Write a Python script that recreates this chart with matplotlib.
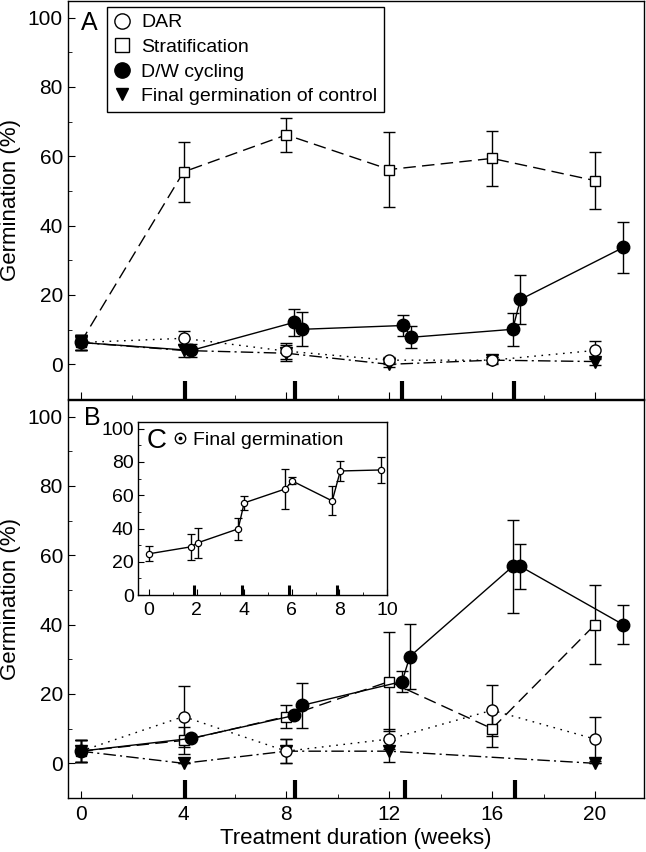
import matplotlib
matplotlib.use('Agg')
from matplotlib import pyplot as plt
from matplotlib.lines import Line2D
from matplotlib.legend_handler import HandlerTuple
from matplotlib.ticker import MultipleLocator

plt.rcParams['font.family'] = ['Liberation Sans', 'DejaVu Sans']
plt.rcParams['axes.linewidth'] = 1.0

# ---- panel A ----
a_dar_x = [0, 4, 8, 12, 16, 20]
a_dar_y = [6.3, 7.5, 3.8, 1.2, 1.2, 4.0]
a_dar_err = [2.3, 2.0, 2.3, 1.0, 1.0, 2.6]
a_strat_x = [0, 4, 8, 12, 16, 20]
a_strat_y = [6.3, 55.5, 66.2, 56.2, 59.4, 53.0]
a_strat_err = [2.3, 8.6, 5.0, 10.7, 8.0, 8.2]
a_dw_x = [0, 4.3, 8.3, 8.6, 12.55, 12.85, 16.8, 17.1, 21.1]
a_dw_y = [6.3, 4.0, 12.1, 10.1, 11.2, 7.8, 10.1, 18.7, 33.7]
a_dw_err = [2.3, 1.8, 4.0, 4.9, 2.9, 3.2, 4.7, 7.0, 7.4]
a_ctrl_x = [0, 4, 8, 12, 16, 20]
a_ctrl_y = [6.3, 4.0, 3.2, 0.0, 1.2, 0.8]
a_ctrl_err = [2.3, 2.0, 2.3, 0.8, 0.8, 1.0]
a_marks = [4.05, 8.33, 12.5, 16.85]

# ---- panel B ----
b_dar_x = [0, 4, 8, 12, 16, 20]
b_dar_y = [3.5, 13.5, 3.5, 7.0, 15.3, 7.0]
b_dar_err = [3.2, 8.7, 3.5, 3.0, 7.3, 6.4]
b_strat_x = [0, 4, 8, 12, 16, 20]
b_strat_y = [3.5, 6.6, 13.5, 23.6, 10.0, 40.0]
b_strat_err = [3.2, 4.0, 3.2, 14.2, 5.4, 11.4]
b_dw_x = [0, 4.3, 8.3, 8.6, 12.5, 12.8, 16.8, 17.1, 21.1]
b_dw_y = [3.5, 7.2, 13.8, 16.7, 23.6, 30.8, 56.8, 56.8, 40.0]
b_dw_err = [3.2, 0, 0, 6.5, 3.0, 9.5, 13.3, 6.6, 5.7]
b_ctrl_x = [0, 4, 8, 12, 20]
b_ctrl_y = [3.5, 0.0, 3.5, 3.5, 0.0]
b_ctrl_err = [3.2, 0, 3.5, 3.2, 0]
b_marks = [4.05, 8.33, 12.6, 16.9]

# ---- inset C ----
c_x = [0, 1.77, 2.05, 3.75, 4.0, 5.73, 6.02, 7.7, 8.04, 9.73]
c_y = [24.8, 29.0, 31.4, 39.8, 55.4, 63.8, 68.6, 56.6, 74.6, 75.2]
c_err = [4.5, 7.8, 9.0, 6.6, 4.1, 11.9, 2.1, 8.7, 5.9, 7.8]
c_marks = [1.9, 3.9, 5.9, 7.9]

TICK_FS = 15
LAB_FS = 16
LEG_FS = 14
eb = dict(capsize=4.3, elinewidth=1.0, capthick=1.0, color='k', lw=1.0)


def panel(ax, dar, strat, dw, ctrl, marks):
    ax.errorbar(*ctrl, fmt='v', ms=8, mfc='k', mec='k',
                dashes=(9, 3, 1.5, 3), zorder=3, **eb)
    ax.errorbar(*dar, fmt='o', ms=8, mfc='white', mec='k',
                dashes=(1.2, 4.0), zorder=4, **eb)
    ax.errorbar(*strat, fmt='s', ms=7, mfc='white', mec='k',
                dashes=(9, 4.5), zorder=4, **eb)
    ax.errorbar(*dw, fmt='o', ms=9, mfc='k', mec='k', ls='-', zorder=5, **eb)
    ax.vlines(marks, -10, -4.8, colors='k', lw=3)
    ax.set_xlim(-0.5, 21.9)
    ax.set_ylim(-10, 104.8)
    ax.xaxis.set_major_locator(MultipleLocator(4))
    ax.xaxis.set_minor_locator(MultipleLocator(2))
    ax.yaxis.set_minor_locator(MultipleLocator(10))
    ax.set_yticks([0, 20, 40, 60, 80, 100])
    ax.tick_params(which='both', direction='in', top=False, right=False,
                   labelsize=TICK_FS)
    ax.tick_params(which='major', length=5)
    ax.tick_params(which='minor', length=3)
    ax.tick_params(axis='x', pad=5)
    ax.set_ylabel('Germination (%)', fontsize=LAB_FS, labelpad=5)


fig = plt.figure(figsize=(6.46, 8.52), dpi=100)
ax_a = fig.add_axes([0.105, 0.5317, 0.8916, 0.4671])
ax_b = fig.add_axes([0.105, 0.0634, 0.8916, 0.4671])

panel(ax_a, (a_dar_x, a_dar_y, a_dar_err), (a_strat_x, a_strat_y, a_strat_err),
      (a_dw_x, a_dw_y, a_dw_err), (a_ctrl_x, a_ctrl_y, a_ctrl_err), a_marks)
panel(ax_b, (b_dar_x, b_dar_y, b_dar_err), (b_strat_x, b_strat_y, b_strat_err),
      (b_dw_x, b_dw_y, b_dw_err), (b_ctrl_x, b_ctrl_y, b_ctrl_err), b_marks)
ax_a.tick_params(labelbottom=False)
ax_b.set_xlabel('Treatment duration (weeks)', fontsize=LAB_FS, labelpad=3)

ax_a.text(0.037, 0.946, 'A', transform=ax_a.transAxes, fontsize=18,
          ha='center', va='center')
ax_b.text(0.043, 0.955, 'B', transform=ax_b.transAxes, fontsize=18,
          ha='center', va='center')

handles = [
    Line2D([], [], ls='none', marker='o', ms=11, mfc='white', mec='k'),
    Line2D([], [], ls='none', marker='s', ms=10.5, mfc='white', mec='k'),
    Line2D([], [], ls='none', marker='o', ms=11, mfc='k', mec='k'),
    Line2D([], [], ls='none', marker='v', ms=9, mfc='k', mec='k'),
]
labels = ['DAR', 'Stratification', 'D/W cycling', 'Final germination of control']
leg = ax_a.legend(handles, labels, loc='upper left',
                  bbox_to_anchor=(0.068, 0.985), borderaxespad=0,
                  fontsize=LEG_FS, frameon=True, fancybox=False, framealpha=1,
                  edgecolor='k', handlelength=0.8, handletextpad=0.6,
                  labelspacing=0.36, borderpad=0.35)
leg.get_frame().set_linewidth(1.0)

# inset C
ax_c = fig.add_axes([0.2136, 0.3016, 0.3854, 0.203])
ax_c.errorbar(c_x, c_y, c_err, fmt='o', ms=4.5, mfc='white', mec='k',
              mew=0.9, ls='-', capsize=3.2, elinewidth=1.0, capthick=1.0,
              color='k', lw=1.0)
ax_c.plot(c_x, c_y, ls='none', marker='o', ms=1.2, color='k')
ax_c.vlines(c_marks, 0, 6, colors='k', lw=2.2)
ax_c.set_xlim(-0.46, 10.0)
ax_c.set_ylim(0, 104)
ax_c.xaxis.set_major_locator(MultipleLocator(2))
ax_c.xaxis.set_minor_locator(MultipleLocator(1))
ax_c.yaxis.set_major_locator(MultipleLocator(20))
ax_c.yaxis.set_minor_locator(MultipleLocator(10))
ax_c.tick_params(which='both', direction='in', top=False, right=False,
                 labelsize=14, pad=3)
ax_c.tick_params(axis='x', pad=5)
ax_c.tick_params(which='major', length=4)
ax_c.tick_params(which='minor', length=2.5)
ax_c.text(0.074, 0.89, 'C', transform=ax_c.transAxes, fontsize=20,
          ha='center', va='center')
h_ring = Line2D([], [], ls='none', marker='o', ms=7.5, mfc='white', mec='k',
                mew=1.0)
h_dot = Line2D([], [], ls='none', marker='o', ms=1.8, color='k')
ax_c.legend([(h_ring, h_dot)], ['Final germination'],
            handler_map={tuple: HandlerTuple(ndivide=1, pad=0)},
            loc='center left', bbox_to_anchor=(0.145, 0.895), frameon=False,
            fontsize=LEG_FS, handlelength=0.6, handletextpad=0.35,
            borderpad=0, borderaxespad=0)

fig.savefig('out.png', dpi=100)
